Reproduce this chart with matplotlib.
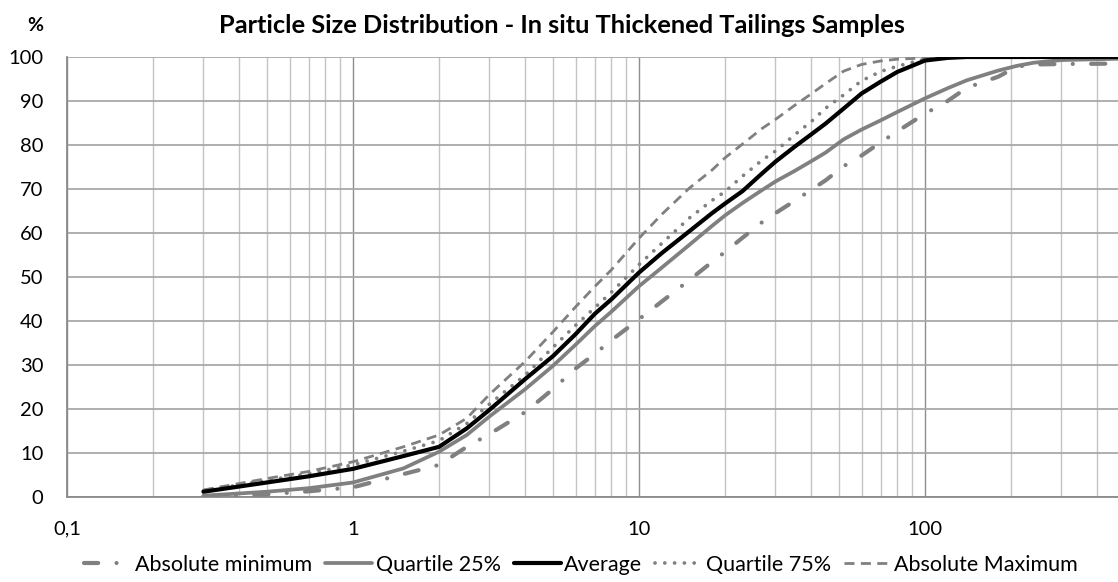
import matplotlib

matplotlib.use("Agg")

import matplotlib.pyplot as plt
from matplotlib.ticker import FixedLocator, FixedFormatter, LogLocator, NullFormatter

plt.rcParams["font.family"] = ["Lato", "DejaVu Sans"]

# particle size (um) and cumulative passing (%)
size = [0.3, 0.5, 0.7, 1, 1.5, 2, 2.5, 3, 4, 5, 6, 7, 8, 10, 12, 15, 18, 20,
        23, 27, 30, 35, 40, 45, 52, 60, 70, 80, 100, 120, 140, 180, 210, 240,
        300, 473]

abs_min = [0.1, 0.6, 1.3, 2.2, 5.2, 7.3, 11.4, 14.3, 19.3, 24.5, 29.2, 32.5,
           35.6, 40.4, 44.4, 49.3, 53.4, 55.7, 58.9, 62.5, 64.5, 67.3, 69.8,
           72.0, 75.2, 77.6, 80.6, 83.1, 87.1, 90.0, 93.0, 95.5, 97.8, 98.3,
           98.4, 98.5]
q25 = [0.3, 1.2, 2.0, 3.3, 6.5, 10.3, 14.1, 18.3, 24.5, 29.8, 34.6, 38.8,
       42.1, 47.9, 52.1, 57.3, 61.6, 64.0, 66.8, 69.8, 71.7, 74.1, 76.3, 78.3,
       81.3, 83.5, 85.6, 87.5, 90.6, 92.9, 94.7, 96.9, 98.0, 98.7, 99.3, 99.6]
average = [1.2, 3.3, 4.7, 6.4, 9.3, 11.4, 15.6, 19.8, 26.8, 32.0, 37.0, 41.6,
           44.9, 51.0, 55.4, 60.4, 64.5, 66.7, 69.5, 73.6, 76.2, 79.6, 82.4,
           84.9, 88.3, 91.7, 94.4, 96.6, 99.2, 99.8, 100, 100, 100, 100, 100,
           100]
q75 = [1.4, 3.8, 5.3, 7.3, 10.4, 12.8, 16.7, 21.1, 27.7, 34.0, 39.0, 43.0,
       46.5, 52.8, 57.6, 63.4, 67.4, 69.4, 72.9, 76.6, 78.6, 82.3, 85.3,
       88.4, 91.4, 94.6, 96.7, 97.9, 99.5, 99.9, 100, 100, 100, 100, 100, 100]
abs_max = [1.6, 4.2, 5.8, 8.0, 11.4, 14.1, 17.9, 23.3, 30.8, 37.5, 43.2, 47.8,
           51.6, 58.8, 64.2, 70.2, 74.3, 77.1, 80.2, 83.8, 85.8, 89.0, 91.6,
           94.0, 96.8, 98.3, 99.1, 99.5, 99.8, 100, 100, 100, 100, 100, 100, 100]

x_ticks = [0.1, 1, 10, 100]
x_labels = ["0,1", "1", "10", "100"]

GRAY = "#808080"

fig = plt.figure(figsize=(11.18, 5.82), dpi=100, facecolor="white")
ax = fig.add_axes([67 / 1118, 85 / 582, 1 - 67 / 1118, 440 / 582])

ax.plot(size, abs_min, color=GRAY, linewidth=3.0, dashes=(3.4, 4.4, 0.01, 4.4),
        dash_capstyle="round", label="Absolute minimum", zorder=3)
ax.plot(size, q25, color=GRAY, linewidth=2.7, solid_capstyle="round",
        solid_joinstyle="round", label="Quartile 25%", zorder=4)
ax.plot(size, average, color="black", linewidth=3.0, solid_capstyle="round",
        solid_joinstyle="round", label="Average", zorder=6)
ax.plot(size, q75, color=GRAY, linewidth=2.7, dashes=(0.01, 2.6),
        dash_capstyle="round", label="Quartile 75%", zorder=5)
ax.plot(size, abs_max, color=GRAY, linewidth=2.0, dashes=(3.6, 2.3),
        label="Absolute Maximum", zorder=5)

ax.set_xscale("log")
ax.set_xlim(0.1, 10 ** 2.675)
ax.set_ylim(0, 100)

ax.xaxis.set_major_locator(FixedLocator(x_ticks))
ax.xaxis.set_major_formatter(FixedFormatter(x_labels))
ax.xaxis.set_minor_locator(LogLocator(base=10, subs=range(2, 10)))
ax.xaxis.set_minor_formatter(NullFormatter())
ax.set_yticks(range(0, 101, 10))

ax.grid(True, which="minor", axis="x", color="#c4c4c4", linewidth=1.0)
ax.grid(True, which="major", axis="x", color="#8e8e8e", linewidth=1.0)
ax.grid(True, which="major", axis="y", color="#a8a8a8", linewidth=1.3)
ax.set_axisbelow(True)

ax.tick_params(axis="both", which="both", length=0, labelsize=14.5,
               labelcolor="black")
ax.tick_params(axis="x", pad=17)
ax.tick_params(axis="y", pad=17)

for side in ("top", "right"):
    ax.spines[side].set_visible(False)
for side in ("left", "bottom"):
    ax.spines[side].set_color("#8a8a8a")
    ax.spines[side].set_linewidth(1.3)

fig.text(0.503, 0.956, "Particle Size Distribution - In situ Thickened Tailings Samples",
         ha="center", va="center", fontsize=18.3, fontweight="bold")
fig.text(35 / 1118, 0.956, "%", ha="center", va="center", fontsize=14,
         fontweight="bold")

fig.legend(loc="center", bbox_to_anchor=(0.52, 0.03), ncol=5, frameon=False,
           fontsize=15.5, handlelength=2.2, handletextpad=0.15, columnspacing=0.6,
           borderaxespad=0)

fig.savefig("out.png", dpi=100, facecolor="white")
